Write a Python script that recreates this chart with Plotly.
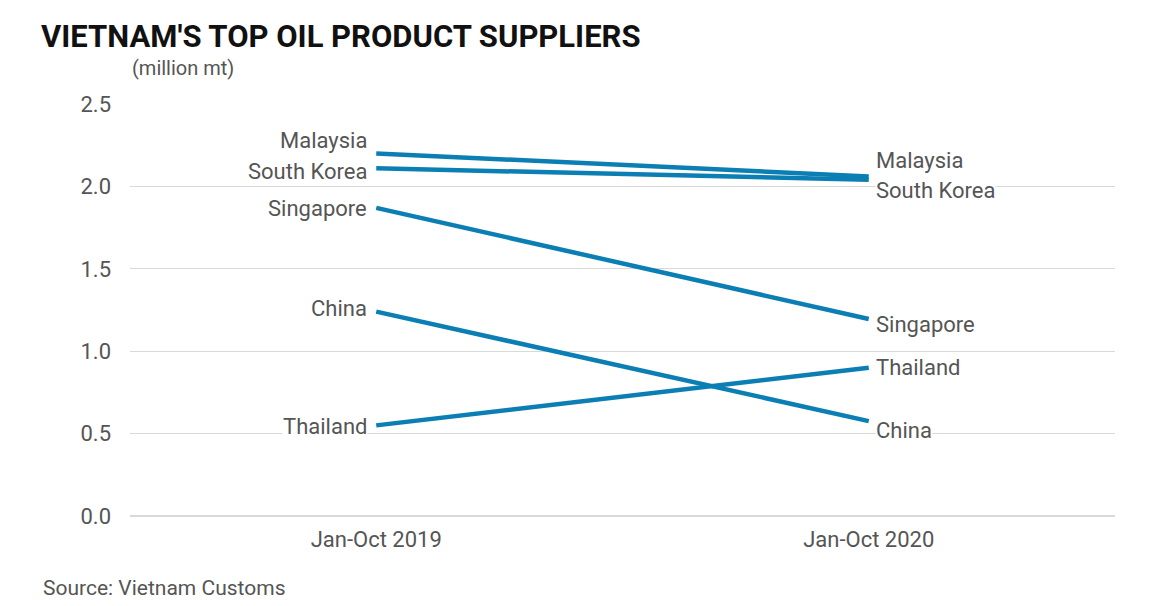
import plotly.graph_objects as go

periods = ["Jan-Oct 2019", "Jan-Oct 2020"]
countries = ["Malaysia", "South Korea", "Singapore", "China", "Thailand"]
v2019 = [2.20, 2.11, 1.87, 1.24, 0.55]
v2020 = [2.06, 2.04, 1.195, 0.576, 0.90]
left_shift = [13, -3, -1, 3, -1]
right_shift = [16, -11, -5, -9, 0]
y_ticks = [0.0, 0.5, 1.0, 1.5, 2.0, 2.5]

color = "#0b7fb3"
gray = "#555555"
fig = go.Figure()
for c, a, b in zip(countries, v2019, v2020):
    fig.add_trace(go.Scatter(x=periods, y=[a, b], mode="lines",
                             line=dict(color=color, width=4.5), showlegend=False, hoverinfo="skip"))

ann = []
for c, a, b, ls, rs in zip(countries, v2019, v2020, left_shift, right_shift):
    ann.append(dict(x=periods[0], y=a, text=c, xanchor="right", xshift=-8, yshift=ls,
                    showarrow=False, font=dict(size=22, color=gray), bgcolor="white", borderpad=0))
    ann.append(dict(x=periods[1], y=b, text=c, xanchor="left", xshift=6, yshift=rs,
                    showarrow=False, font=dict(size=22, color=gray), bgcolor="white", borderpad=0))
ann.append(dict(xref="paper", yref="paper", x=0.0, y=1.0, yshift=22, xanchor="left", yanchor="bottom",
                text="(million mt)", showarrow=False, font=dict(size=20, color=gray)))
ann.append(dict(xref="paper", yref="paper", x=-0.0904, y=0, yshift=-72, xanchor="left", yanchor="middle",
                text="Source: Vietnam Customs", showarrow=False, font=dict(size=21, color=gray)))

fig.update_layout(
    width=1155, height=606, plot_bgcolor="white", paper_bgcolor="white",
    margin=dict(l=122, r=48, t=96, b=98),
    font=dict(family="Roboto, sans-serif", color=gray),
    title=dict(text="<b>VIETNAM'S TOP OIL PRODUCT SUPPLIERS</b>", x=33/1155, xanchor="left",
               y=1-28/606, yanchor="middle", font=dict(size=31, color="#111111", family="Roboto")),
    xaxis=dict(type="category", range=[-0.5, 1.5], showgrid=False, showline=False, ticks="",
               tickfont=dict(size=22, color=gray), ticklabelstandoff=8),
    yaxis=dict(range=[0, 2.5], tickvals=y_ticks, tickformat=".1f", showgrid=True,
               gridcolor="#d9d9d9", gridwidth=1, zeroline=True, zerolinecolor="#d9d9d9",
               showline=False, ticks="", tickfont=dict(size=22, color=gray), ticklabelstandoff=18),
    annotations=ann,
)
fig.write_html("out.html")
